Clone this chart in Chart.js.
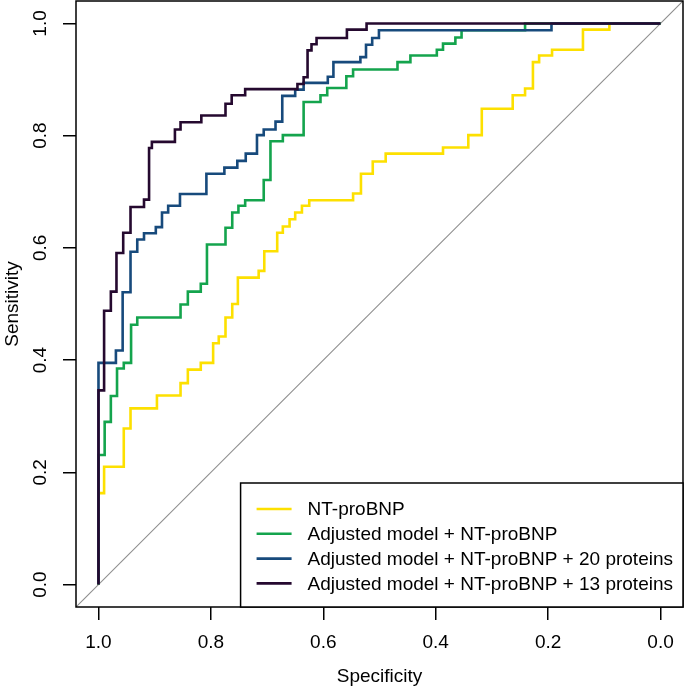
<!DOCTYPE html>
<html>
<head>
<meta charset="utf-8">
<script src="https://cdn.jsdelivr.net/npm/chart.js@4.4.1/dist/chart.umd.min.js"></script>
<style>
  html, body { margin: 0; padding: 0; background: #fff; }
  #roc { display: block; }
</style>
</head>
<body>
<canvas id="roc" width="685" height="688"></canvas>
<script>
// ROC curves: specificity (reversed x) vs sensitivity, stepped

const TICKS = [0, 0.2, 0.4, 0.6, 0.8, 1.0];
const AXIS_MIN = -0.04;
const AXIS_MAX = 1.04;

const LABELS = [
    'NT-proBNP',
    'Adjusted model + NT-proBNP',
    'Adjusted model + NT-proBNP + 20 proteins',
    'Adjusted model + NT-proBNP + 13 proteins',
];

// NT-proBNP
const specBnp = [1, 1, 0.990, 0.955, 0.943, 0.896, 0.854, 0.841, 0.818, 0.796,
                 0.786, 0.774, 0.762, 0.752, 0.715, 0.705, 0.682, 0.672, 0.660, 0.650,
                 0.638, 0.625, 0.547, 0.533, 0.512, 0.489, 0.387, 0.342, 0.318, 0.263,
                 0.241, 0.227, 0.216, 0.193, 0.138, 0.091, 0];
const sensBnp = [0, 0.163, 0.210, 0.278, 0.314, 0.337, 0.359, 0.383, 0.395, 0.430,
                 0.442, 0.476, 0.500, 0.547, 0.559, 0.594, 0.627, 0.638, 0.651, 0.663,
                 0.675, 0.685, 0.697, 0.732, 0.754, 0.768, 0.779, 0.801, 0.848, 0.872,
                 0.884, 0.931, 0.943, 0.953, 0.989, 1, 1];

// Adjusted model + NT-proBNP
const specAdj = [1, 1, 0.989, 0.978, 0.967, 0.955, 0.942, 0.931, 0.854, 0.841,
                 0.818, 0.807, 0.774, 0.762, 0.751, 0.739, 0.706, 0.694, 0.672, 0.635,
                 0.605, 0.593, 0.559, 0.547, 0.468, 0.445, 0.398, 0.387, 0.365, 0.354,
                 0.241, 0];
const sensAdj = [0, 0.231, 0.290, 0.336, 0.385, 0.395, 0.463, 0.476, 0.499, 0.522,
                 0.536, 0.606, 0.636, 0.663, 0.675, 0.685, 0.721, 0.790, 0.801, 0.860,
                 0.872, 0.885, 0.906, 0.918, 0.931, 0.943, 0.953, 0.964, 0.975, 0.988,
                 1, 1];

// Adjusted model + NT-proBNP + 20 proteins
const spec20 = [1, 1, 0.969, 0.957, 0.943, 0.931, 0.919, 0.898, 0.887, 0.876,
                0.855, 0.808, 0.776, 0.753, 0.738, 0.718, 0.706, 0.685, 0.673, 0.650,
                0.635, 0.592, 0.582, 0.534, 0.524, 0.513, 0.501, 0.194, 0];
const sens20 = [0, 0.395, 0.417, 0.521, 0.593, 0.615, 0.626, 0.637, 0.663, 0.675,
                0.696, 0.732, 0.743, 0.755, 0.768, 0.801, 0.811, 0.825, 0.871, 0.882,
                0.894, 0.905, 0.931, 0.940, 0.962, 0.974, 0.988, 1, 1];

// Adjusted model + NT-proBNP + 13 proteins
const spec13 = [1, 1, 0.990, 0.978, 0.968, 0.956, 0.943, 0.919, 0.910, 0.905,
                0.864, 0.854, 0.817, 0.774, 0.763, 0.739, 0.646, 0.635, 0.628, 0.621,
                0.612, 0.558, 0.523, 0];
const sens13 = [0, 0.346, 0.488, 0.522, 0.591, 0.627, 0.673, 0.686, 0.778, 0.789,
                0.811, 0.824, 0.836, 0.857, 0.872, 0.883, 0.892, 0.904, 0.952, 0.963,
                0.974, 0.989, 1, 1];

const COR = {
    yellow: '#FDE000',
    green:  '#14A44D',
    blue:   '#174A7C',
    purple: '#25092F',
    diag:   '#8f8f8f',
};

const FONT = '"Liberation Sans", Arial, sans-serif';
Chart.defaults.font.family = FONT;
Chart.defaults.font.size = 19;
Chart.defaults.color = '#000';

const pts = (xs, ys) => xs.map((x, i) => ({ x: x, y: ys[i] }));

function curva(label, xs, ys, cor, ordem) {
    return {
        label: label,
        data: pts(xs, ys),
        showLine: true,
        stepped: 'before',
        borderColor: cor,
        backgroundColor: cor,
        borderWidth: 2.6,
        pointRadius: 0,
        order: ordem,
    };
}

// caixa em volta do plot
const moldura = {
    id: 'moldura',
    afterDraw(chart) {
        const { ctx, chartArea: a } = chart;
        ctx.save();
        ctx.strokeStyle = '#000';
        ctx.lineWidth = 1.5;
        ctx.strokeRect(a.left, a.top, a.right - a.left, a.bottom - a.top);
        ctx.restore();
    }
};

// legenda no canto inferior direito, estilo R
const legenda = {
    id: 'legenda',
    afterDraw(chart) {
        const { ctx, chartArea: a } = chart;
        const sets = chart.data.datasets.filter(d => d.label);
        ctx.save();
        ctx.font = '19px ' + FONT;
        const larg = Math.max(...sets.map(d => ctx.measureText(d.label).width));
        const w = 67 + larg + 10;
        const h = 124;
        const x0 = a.right - w;
        const y0 = a.bottom - h;
        ctx.fillStyle = '#fff';
        ctx.fillRect(x0, y0, w, h);
        ctx.strokeStyle = '#000';
        ctx.lineWidth = 1.5;
        ctx.strokeRect(x0, y0, w, h);
        ctx.textBaseline = 'middle';
        sets.forEach((d, i) => {
            const y = y0 + 26 + i * 24.8;
            ctx.strokeStyle = d.borderColor;
            ctx.lineWidth = 2.6;
            ctx.beginPath();
            ctx.moveTo(x0 + 16, y);
            ctx.lineTo(x0 + 51, y);
            ctx.stroke();
            ctx.fillStyle = '#000';
            ctx.fillText(d.label, x0 + 67, y + 1);
        });
        ctx.restore();
    }
};

const eixo = (titulo) => ({
    type: 'linear',
    min: AXIS_MIN,
    max: AXIS_MAX,
    afterBuildTicks: s => { s.ticks = TICKS.map(v => ({ value: v })); },
    grid: {
        display: true,
        drawOnChartArea: false,
        drawTicks: true,
        tickLength: 13,
        color: '#000',
        lineWidth: 1.5,
    },
    border: { display: false },
    ticks: {
        autoSkip: false,
        color: '#000',
        callback: v => Number(v).toFixed(1),
    },
    title: { display: true, text: titulo, color: '#000', padding: 0 },
});

const eixoX = eixo('Specificity');
eixoX.reverse = true;
eixoX.ticks.padding = 11;
eixoX.ticks.maxRotation = 0;
eixoX.afterFit = s => { s.height = 81; s.paddingLeft = 0; s.paddingRight = 0; };

const eixoY = eixo('Sensitivity');
eixoY.ticks.padding = 9;
eixoY.ticks.minRotation = 90;
eixoY.ticks.maxRotation = 90;
eixoY.ticks.crossAlign = 'center';
eixoY.title.padding = { top: 1, bottom: 0 };
eixoY.afterFit = s => { s.width = 76; s.paddingTop = 0; s.paddingBottom = 0; };

new Chart(document.getElementById('roc'), {
    type: 'scatter',
    data: {
        datasets: [
            curva(LABELS[0], specBnp, sensBnp, COR.yellow, 4),
            curva(LABELS[1], specAdj, sensAdj, COR.green, 3),
            curva(LABELS[2], spec20, sens20, COR.blue, 2),
            curva(LABELS[3], spec13, sens13, COR.purple, 1),
            {
                // diagonal de referência (sens = 1 - spec)
                data: pts([AXIS_MIN, AXIS_MAX], [1 - AXIS_MIN, 1 - AXIS_MAX]),
                showLine: true,
                borderColor: COR.diag,
                borderWidth: 1.1,
                pointRadius: 0,
                order: 5,
            },
        ]
    },
    options: {
        responsive: false,
        animation: false,
        layout: { padding: { top: 1, right: 2, bottom: 0, left: 0 } },
        plugins: {
            legend: { display: false },
            tooltip: { enabled: false },
        },
        scales: { x: eixoX, y: eixoY },
    },
    plugins: [moldura, legenda],
});
</script>
</body>
</html>
